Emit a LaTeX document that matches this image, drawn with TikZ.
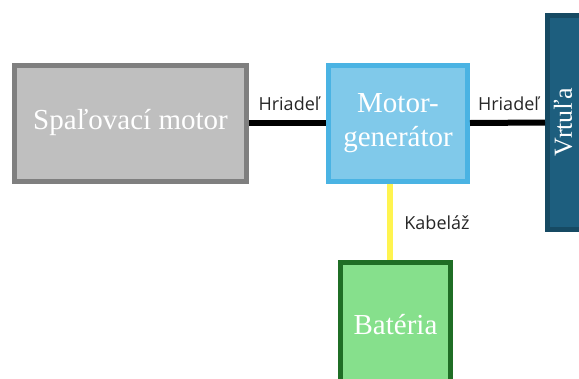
\documentclass[tikz,border=0pt]{standalone}
\usepackage{fontspec}
\setmainfont{Liberation Serif}
\newfontfamily\labelfont{Open Sans}
\begin{document}
\begin{tikzpicture}[x=1pt,y=-1pt,
  block/.style={draw, line width=5pt, inner sep=0pt, text=white,
    font=\fontsize{29}{34}\selectfont, align=center},
  shaft/.style={line width=6pt, black},
  cable/.style={line width=6pt, draw=cableyellow},
  tag/.style={font=\labelfont\fontsize{18}{20}\selectfont, text=black!85, inner sep=0pt}]
\definecolor{iceborder}{HTML}{7F7F7F}
\definecolor{icefill}{HTML}{BFBFBF}
\definecolor{mgborder}{HTML}{4AB3E3}
\definecolor{mgfill}{HTML}{80C9EA}
\definecolor{propborder}{HTML}{164A63}
\definecolor{propfill}{HTML}{1D5E7E}
\definecolor{batborder}{HTML}{1F6E25}
\definecolor{batfill}{HTML}{86E08C}
\definecolor{cableyellow}{HTML}{FFF44F}
\useasboundingbox (0,0) rectangle (579,378);
% power units
\node[block, draw=iceborder, fill=icefill, minimum width=232pt, minimum height=116pt]
  (ice) at (130.5,123) {Spaľovací motor};
\node[block, draw=mgborder, fill=mgfill, minimum width=139pt, minimum height=116pt]
  (mg) at (398,123) {Motor-\\generátor};
\node[block, draw=propborder, fill=propfill, minimum width=40pt, minimum height=214pt]
  (prop) at (567.5,122.5) {};
\node[rotate=90, text=white, inner sep=0pt, font=\fontsize{26}{30}\selectfont]
  (proptext) at (563,122) {Vrtuľa};
\node[block, draw=batborder, fill=batfill, minimum width=110pt, minimum height=126pt]
  (bat) at (395.5,325) {Batéria};
% shafts and wiring
\draw[shaft] (ice.east) -- (mg.west);
\draw[shaft] (mg.east) -- (prop.west);
\draw[cable] (mg.south -| 390,0) -- (bat.north -| 390,0);
% connection labels
\node[tag] (shaft1) at (289,104) {Hriadeľ};
\node[tag] (shaft2) at (508.5,104) {Hriadeľ};
\node[tag] (wires) at (437,223) {Kabeláž};
\end{tikzpicture}
\end{document}
